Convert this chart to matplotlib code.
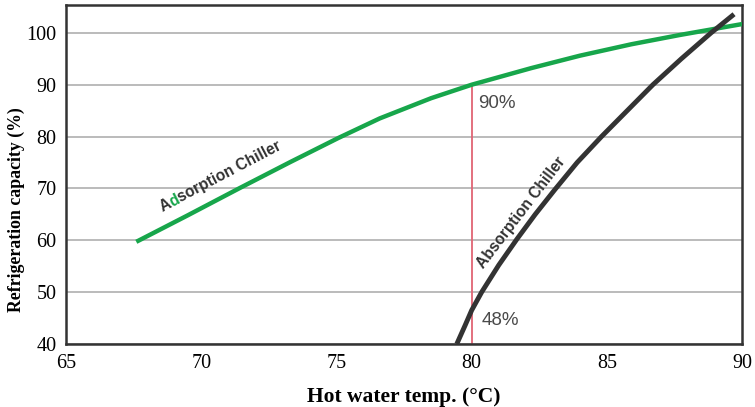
import matplotlib
matplotlib.use("Agg")
import matplotlib.pyplot as plt
import numpy as np
from matplotlib.transforms import offset_copy

# data
ads_temp = [67.6, 69.5, 71.4, 73.3, 75.06, 76.6, 78.5, 80.0, 82.2, 84.0, 85.9, 87.7, 88.9, 90.0]
ads_cap = [59.7, 64.8, 70.0, 75.1, 79.7, 83.5, 87.4, 90.0, 93.2, 95.6, 97.8, 99.6, 100.7, 101.7]

abs_temp = [79.45, 79.75, 80.0, 80.37, 81.0, 81.67, 82.35, 83.08, 83.9, 84.8, 85.75, 86.7, 87.75, 88.85, 89.7]
abs_cap = [40.0, 43.5, 46.5, 50.0, 55.2, 60.2, 65.0, 69.8, 75.0, 80.0, 85.0, 90.0, 95.0, 100.0, 103.6]

mark_temp = 80
mark_ads = 90
mark_abs = 48

xticks = [65, 70, 75, 80, 85, 90]
yticks = [40, 50, 60, 70, 80, 90, 100]

green = "#17a64b"
dark = "#333333"
grey_txt = "#4a4a4a"

fig = plt.figure(figsize=(7.55, 4.07), dpi=100)
ax = fig.add_axes([0.0874, 0.155, 0.8956, 0.833])

ax.set_xlim(65, 90)
ax.set_ylim(40, 105.4)
ax.set_xticks(xticks)
ax.set_yticks(yticks)
ax.yaxis.grid(True, color="#b5b5b5", linewidth=1.3)
ax.set_axisbelow(True)
ax.tick_params(length=0, pad=7, labelsize=14.5)
for lab in ax.get_xticklabels() + ax.get_yticklabels():
    lab.set_fontfamily("Liberation Serif")
for sp in ax.spines.values():
    sp.set_color(dark)
    sp.set_linewidth(1.8)

ax.plot([mark_temp, mark_temp], [40, mark_ads], color="#e06474", linewidth=1.3, zorder=2)
ax.plot(ads_temp, ads_cap, color=green, linewidth=3.2, solid_capstyle="butt", zorder=3)
ax.plot(abs_temp, abs_cap, color=dark, linewidth=3.5, solid_capstyle="butt", zorder=3)

ax.text(80.23, 85.5, f"{mark_ads}%", fontsize=13.5, color=grey_txt,
        fontfamily="Liberation Sans", va="baseline")
ax.text(80.36, 43.6, f"{mark_abs}%", fontsize=13.5, color=grey_txt,
        fontfamily="Liberation Sans", va="baseline")

ax.set_xlabel("Hot water temp. (°C)", fontsize=15.5, fontweight="bold",
              fontfamily="Liberation Serif", labelpad=10)
ax.set_ylabel("Refrigeration capacity (%)", fontsize=12.8, fontweight="bold",
              fontfamily="Liberation Serif")
ax.yaxis.set_label_coords(-0.061, 0.395)

# rotated curve labels, "d" of Adsorption in green
fig.canvas.draw()
renderer = fig.canvas.get_renderer()


def rotated_pieces(x, y, pieces, angle):
    dx = 0.0
    th = np.radians(angle)
    for txt, col in pieces:
        tr = offset_copy(ax.transData, fig=fig, x=dx * np.cos(th) * 72 / fig.dpi,
                         y=dx * np.sin(th) * 72 / fig.dpi, units="points")
        t = ax.text(x, y, txt, transform=tr, rotation=0, rotation_mode="anchor",
                    ha="left", va="baseline", fontsize=11.2, fontweight="bold",
                    color=col, fontfamily="Liberation Sans")
        w = t.get_window_extent(renderer).width
        t.set_rotation(angle)
        dx += w


rotated_pieces(68.57, 65.4, [("A", dark), ("d", green), ("sorption Chiller", dark)], 27.7)
rotated_pieces(80.43, 54.5, [("Absorption Chiller", dark)], 52.6)

fig.savefig("out.png", dpi=100)
